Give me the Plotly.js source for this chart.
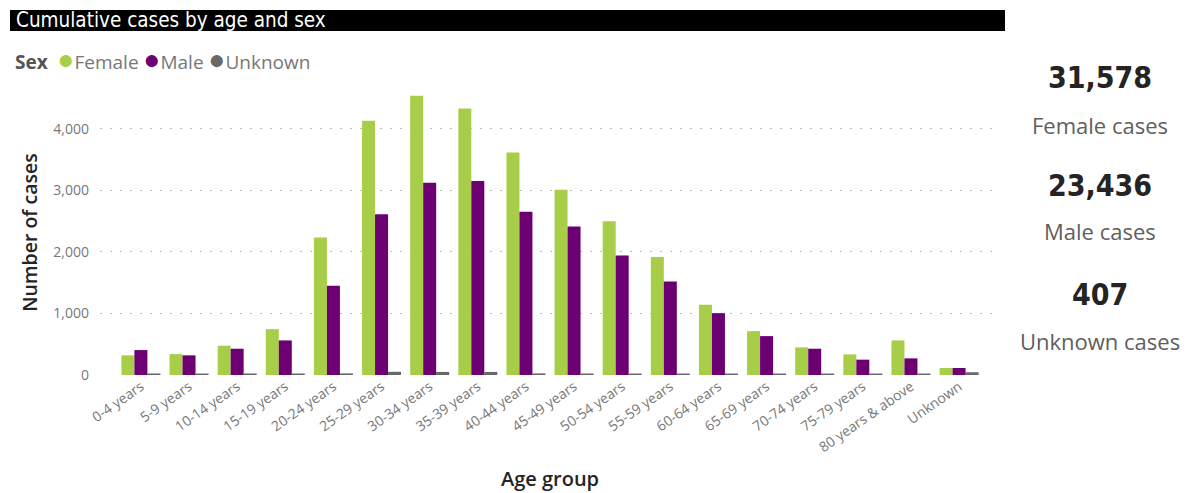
<!DOCTYPE html>
<html>
<head>
<meta charset="utf-8">
<script src="https://cdn.plot.ly/plotly-3.0.1.min.js"></script>
<style>html,body{margin:0;padding:0;background:#fff;}#chart{width:1190px;height:493px;}</style>
</head>
<body>
<div id="chart"></div>
<script>
const ageGroups = ["0-4 years","5-9 years","10-14 years","15-19 years","20-24 years","25-29 years","30-34 years","35-39 years","40-44 years","45-49 years","50-54 years","55-59 years","60-64 years","65-69 years","70-74 years","75-79 years","80 years & above","Unknown"];
const femaleCases = [319,340,476,745,2232,4130,4535,4330,3616,3011,2497,1919,1140,713,449,335,562,114];
const maleCases = [405,319,427,562,1449,2611,3124,3151,2654,2411,1940,1519,1005,632,427,249,270,114];
const unknownCases = [25,24,25,25,26,52,50,50,26,25,24,24,24,24,24,24,24,45];
const seriesNames = ["Female","Male","Unknown"];
const totals = ["31,578","23,436","407"];
const totalLabels = ["Female cases","Male cases","Unknown cases"];

const colors = ["#A8CD48","#6C0073","#686868"];
const values = [femaleCases, maleCases, unknownCases];

const traces = values.map((v,i)=>({type:"bar", x:ageGroups, y:v, name:seriesNames[i], marker:{color:colors[i]}, showlegend:false}));

const L=100, R=1000, T=90, B=375;
const px = p => (p-L)/(R-L);
const py = p => (B-p)/(B-T);

let legendText = "<b>Sex</b>  ";
seriesNames.forEach((n,i)=>{
  legendText += (i>0?" ":"") + "<span style='color:"+colors[i]+";font-size:28px'>●</span><span style='color:#777777'>"+n+"</span>";
});

const annotations = [
  {text:"Cumulative cases by age and sex", xref:"paper", yref:"paper", x:px(14), y:py(20), xanchor:"left", yanchor:"middle", showarrow:false, font:{family:"DejaVu Sans Condensed", size:20.5, color:"#ffffff"}},
  {text:legendText, xref:"paper", yref:"paper", x:px(13), y:py(58), xanchor:"left", yanchor:"middle", showarrow:false, font:{family:"Open Sans", size:19, color:"#555555"}}
];
const numY = [77,185,294], labY=[125,231,341];
totals.forEach((t,i)=>{
  annotations.push({text:t, xref:"paper", yref:"paper", x:px(1100), y:py(numY[i]), xanchor:"center", yanchor:"middle", showarrow:false, font:{family:"DejaVu Sans Condensed", size:30, color:"#252423", weight:700}});
  annotations.push({text:totalLabels[i], xref:"paper", yref:"paper", x:px(1100), y:py(labY[i]), xanchor:"center", yanchor:"middle", showarrow:false, font:{family:"Open Sans", size:22, color:"#605E5C"}});
});

const layout = {
  width:1190, height:493,
  margin:{l:L, r:1190-R, t:T, b:493-B, pad:0},
  paper_bgcolor:"#ffffff", plot_bgcolor:"#ffffff",
  barmode:"group", bargap:0.19, bargroupgap:0,
  showlegend:false,
  font:{family:"Open Sans", color:"#605E5C"},
  xaxis:{
    range:[-0.85,17.85], tickangle:-35, showgrid:false, zeroline:false, showline:false, ticks:"",
    tickfont:{family:"Open Sans", size:14, color:"#777777"},
    title:{text:"Age group", font:{family:"Open Sans", size:20, color:"#252423", weight:600}, standoff:16}
  },
  yaxis:{
    range:[0,4630], tickvals:[0,1000,2000,3000,4000], ticktext:["0","1,000","2,000","3,000","4,000"],
    showgrid:true, gridcolor:"#BBBBBB", griddash:"2px,8px", gridwidth:1, zeroline:false, showline:false, ticks:"", ticklabelstandoff:10,
    tickfont:{family:"Open Sans", size:14, color:"#777777"},
    title:{text:"Number of cases", font:{family:"Open Sans", size:19.5, color:"#252423", weight:600}, standoff:10}
  },
  shapes:[
    {type:"rect", xref:"paper", yref:"paper", x0:px(10), x1:px(1005), y0:py(31), y1:py(10), fillcolor:"#000000", line:{width:0}, layer:"below"}
  ],
  annotations:annotations
};

Plotly.newPlot("chart", traces, layout, {displayModeBar:false, staticPlot:true});
</script>
</body>
</html>
